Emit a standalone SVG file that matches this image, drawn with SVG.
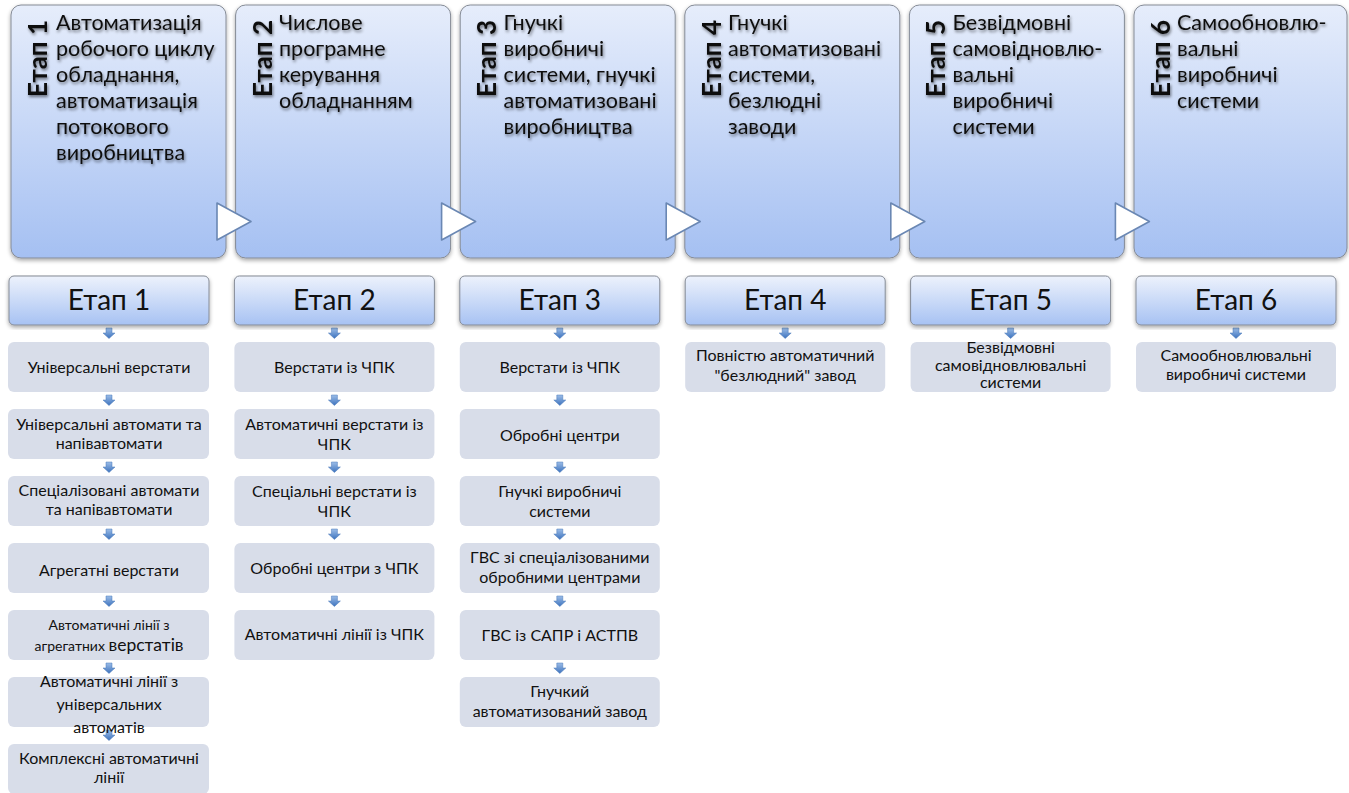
<svg xmlns="http://www.w3.org/2000/svg" width="1349" height="793" viewBox="0 0 1349 793">
  <defs>
    <linearGradient id="gStage" x1="0" y1="0" x2="0" y2="1">
      <stop offset="0" stop-color="#e6edfb"/>
      <stop offset="1" stop-color="#a5c0f2"/>
    </linearGradient>
    <linearGradient id="gHead" x1="0" y1="0" x2="0" y2="1">
      <stop offset="0" stop-color="#edf2fc"/>
      <stop offset="1" stop-color="#a7c2f3"/>
    </linearGradient>
    <linearGradient id="gArrow" x1="0" y1="0" x2="0" y2="1">
      <stop offset="0" stop-color="#9cbde8"/>
      <stop offset="1" stop-color="#3c72bd"/>
    </linearGradient>
    <filter id="boxShadow" x="-5%" y="-5%" width="110%" height="115%">
      <feGaussianBlur in="SourceAlpha" stdDeviation="2"/>
      <feOffset dx="0" dy="2" result="b"/>
      <feComponentTransfer><feFuncA type="linear" slope="0.35"/></feComponentTransfer>
      <feMerge><feMergeNode/><feMergeNode in="SourceGraphic"/></feMerge>
    </filter>
    <filter id="textShadow" x="-10%" y="-20%" width="120%" height="150%">
      <feGaussianBlur in="SourceAlpha" stdDeviation="1.8"/>
      <feOffset dx="1" dy="2" result="b"/>
      <feComponentTransfer><feFuncA type="linear" slope="0.5"/></feComponentTransfer>
      <feMerge><feMergeNode/><feMergeNode in="SourceGraphic"/></feMerge>
    </filter>
    <path id="dnArrow" d="M-3,0 h6 v5 h3 l-6,5.5 l-6,-5.5 h3 z" fill="url(#gArrow)" stroke="#4a78b8" stroke-width="0.5"/>
  </defs>
  <style>
    text { font-family: Lato, "Noto Sans", "DejaVu Sans", sans-serif; fill: #111; }
    .stage { fill: url(#gStage); stroke: #858b96; stroke-width: 1; }
    .head { fill: url(#gHead); stroke: #858b96; stroke-width: 1; }
    .child { fill: #d8dde9; }
    .tri { fill: #ffffff; stroke: #6a87b3; stroke-width: 1.6; stroke-linejoin: round; }
    .vlab { font-size: 26px; font-weight: 700; }
    .ttl { font-size: 21.5px; }
    .hl { font-size: 28px; text-anchor: middle; }
    .ct { text-anchor: middle; font-size: 16px; }
  </style>

  <rect width="1349" height="793" fill="#ffffff"/>

  <!-- Stage overview panels -->
  <g id="stage1">
    <rect class="stage" x="11" y="5" width="215" height="253" rx="10" filter="url(#boxShadow)"/>
    <g filter="url(#textShadow)">
      <text class="vlab" transform="translate(47,97) rotate(-90)">Етап 1</text>
      <text class="ttl"><tspan x="56" y="30">Автоматизація</tspan><tspan x="56" y="56">робочого циклу</tspan><tspan x="56" y="82">обладнання,</tspan><tspan x="56" y="108">автоматизація</tspan><tspan x="56" y="134">потокового</tspan><tspan x="56" y="160">виробництва</tspan></text>
    </g>
  </g>
  <g id="stage2">
    <rect class="stage" x="235.6" y="5" width="215" height="253" rx="10" filter="url(#boxShadow)"/>
    <g filter="url(#textShadow)">
      <text class="vlab" transform="translate(271.6,97) rotate(-90)">Етап 2</text>
      <text class="ttl"><tspan x="279" y="30">Числове</tspan><tspan x="279" y="56">програмне</tspan><tspan x="279" y="82">керування</tspan><tspan x="279" y="108">обладнанням</tspan></text>
    </g>
  </g>
  <g id="stage3">
    <rect class="stage" x="460.2" y="5" width="215" height="253" rx="10" filter="url(#boxShadow)"/>
    <g filter="url(#textShadow)">
      <text class="vlab" transform="translate(496.2,97) rotate(-90)">Етап 3</text>
      <text class="ttl"><tspan x="503.5" y="30">Гнучкі</tspan><tspan x="503.5" y="56">виробничі</tspan><tspan x="503.5" y="82">системи, гнучкі</tspan><tspan x="503.5" y="108">автоматизовані</tspan><tspan x="503.5" y="134">виробництва</tspan></text>
    </g>
  </g>
  <g id="stage4">
    <rect class="stage" x="684.8" y="5" width="215" height="253" rx="10" filter="url(#boxShadow)"/>
    <g filter="url(#textShadow)">
      <text class="vlab" transform="translate(720.8,97) rotate(-90)">Етап 4</text>
      <text class="ttl"><tspan x="728" y="30">Гнучкі</tspan><tspan x="728" y="56">автоматизовані</tspan><tspan x="728" y="82">системи,</tspan><tspan x="728" y="108">безлюдні</tspan><tspan x="728" y="134">заводи</tspan></text>
    </g>
  </g>
  <g id="stage5">
    <rect class="stage" x="909.4" y="5" width="215" height="253" rx="10" filter="url(#boxShadow)"/>
    <g filter="url(#textShadow)">
      <text class="vlab" transform="translate(945.4,97) rotate(-90)">Етап 5</text>
      <text class="ttl"><tspan x="952.5" y="30">Безвідмовні</tspan><tspan x="952.5" y="56">самовідновлю-</tspan><tspan x="952.5" y="82">вальні</tspan><tspan x="952.5" y="108">виробничі</tspan><tspan x="952.5" y="134">системи</tspan></text>
    </g>
  </g>
  <g id="stage6">
    <rect class="stage" x="1134" y="5" width="213" height="253" rx="10" filter="url(#boxShadow)"/>
    <g filter="url(#textShadow)">
      <text class="vlab" transform="translate(1170,97) rotate(-90)">Етап 6</text>
      <text class="ttl"><tspan x="1177" y="30">Самообновлю-</tspan><tspan x="1177" y="56">вальні</tspan><tspan x="1177" y="82">виробничі</tspan><tspan x="1177" y="108">системи</tspan></text>
    </g>
  </g>

  <!-- Connectors: stage-to-stage triangles and small down arrows -->
  <g id="connectors">
    <polygon class="tri" points="217,203 251,221.5 217,240"/>
    <polygon class="tri" points="441.6,203 475.6,221.5 441.6,240"/>
    <polygon class="tri" points="666.2,203 700.2,221.5 666.2,240"/>
    <polygon class="tri" points="890.8,203 924.8,221.5 890.8,240"/>
    <polygon class="tri" points="1115.4,203 1149.4,221.5 1115.4,240"/>

    <!-- column 1 -->
    <use href="#dnArrow" x="109" y="328"/>
    <use href="#dnArrow" x="109" y="395"/>
    <use href="#dnArrow" x="109" y="462"/>
    <use href="#dnArrow" x="109" y="529"/>
    <use href="#dnArrow" x="109" y="596"/>
    <use href="#dnArrow" x="109" y="663"/>
    <use href="#dnArrow" x="109" y="730"/>
    <!-- column 2 -->
    <use href="#dnArrow" x="334.4" y="328"/>
    <use href="#dnArrow" x="334.4" y="395"/>
    <use href="#dnArrow" x="334.4" y="462"/>
    <use href="#dnArrow" x="334.4" y="529"/>
    <use href="#dnArrow" x="334.4" y="596"/>
    <!-- column 3 -->
    <use href="#dnArrow" x="559.8" y="328"/>
    <use href="#dnArrow" x="559.8" y="395"/>
    <use href="#dnArrow" x="559.8" y="462"/>
    <use href="#dnArrow" x="559.8" y="529"/>
    <use href="#dnArrow" x="559.8" y="596"/>
    <use href="#dnArrow" x="559.8" y="663"/>
    <!-- columns 4-6 -->
    <use href="#dnArrow" x="785.2" y="328"/>
    <use href="#dnArrow" x="1010.6" y="328"/>
    <use href="#dnArrow" x="1236" y="328"/>
  </g>

  <!-- Column headers -->
  <g id="head1"><rect class="head" x="9" y="276" width="200" height="49" rx="5" filter="url(#boxShadow)"/><text class="hl" x="109" y="310">Етап 1</text></g>
  <g id="head2"><rect class="head" x="234.4" y="276" width="200" height="49" rx="5" filter="url(#boxShadow)"/><text class="hl" x="334.4" y="310">Етап 2</text></g>
  <g id="head3"><rect class="head" x="459.8" y="276" width="200" height="49" rx="5" filter="url(#boxShadow)"/><text class="hl" x="559.8" y="310">Етап 3</text></g>
  <g id="head4"><rect class="head" x="685.2" y="276" width="200" height="49" rx="5" filter="url(#boxShadow)"/><text class="hl" x="785.2" y="310">Етап 4</text></g>
  <g id="head5"><rect class="head" x="910.6" y="276" width="200" height="49" rx="5" filter="url(#boxShadow)"/><text class="hl" x="1010.6" y="310">Етап 5</text></g>
  <g id="head6"><rect class="head" x="1136" y="276" width="200" height="49" rx="5" filter="url(#boxShadow)"/><text class="hl" x="1236" y="310">Етап 6</text></g>

  <!-- Column 1 items -->
  <g id="c1i1"><rect class="child" x="8" y="342" width="201" height="50" rx="6"/><text class="ct" x="109" y="373" font-size="18.5">Універсальні верстати</text></g>
  <g id="c1i2"><rect class="child" x="8" y="409" width="201" height="50" rx="6"/><text class="ct" font-size="15.6"><tspan x="109" y="430">Універсальні автомати та</tspan><tspan x="109" y="449">напівавтомати</tspan></text></g>
  <g id="c1i3"><rect class="child" x="8" y="476" width="201" height="50" rx="6"/><text class="ct" font-size="15.6"><tspan x="109" y="496">Спеціалізовані автомати</tspan><tspan x="109" y="515">та напівавтомати</tspan></text></g>
  <g id="c1i4"><rect class="child" x="8" y="543" width="201" height="50" rx="6"/><text class="ct" x="109" y="576" font-size="18.8">Агрегатні верстати</text></g>
  <g id="c1i5"><rect class="child" x="8" y="610" width="201" height="50" rx="6"/><text class="ct"><tspan x="109" y="630" font-size="14">Автоматичні лінії з</tspan><tspan x="109" y="651" font-size="14">агрегатних <tspan font-size="17.5">верстатів</tspan></tspan></text></g>
  <g id="c1i6"><rect class="child" x="8" y="677" width="201" height="50" rx="6"/><text class="ct" font-size="17.8"><tspan x="109" y="687">Автоматичні лінії з</tspan><tspan x="109" y="710">універсальних</tspan><tspan x="109" y="733">автоматів</tspan></text></g>
  <g id="c1i7"><rect class="child" x="8" y="744" width="201" height="50" rx="6"/><text class="ct" font-size="15.6"><tspan x="109" y="764">Комплексні автоматичні</tspan><tspan x="109" y="783">лінії</tspan></text></g>

  <!-- Column 2 items -->
  <g id="c2i1"><rect class="child" x="234.4" y="342" width="200" height="50" rx="6"/><text class="ct" x="334.4" y="373" font-size="16.5">Верстати із ЧПК</text></g>
  <g id="c2i2"><rect class="child" x="234.4" y="409" width="200" height="50" rx="6"/><text class="ct" font-size="16.4"><tspan x="334.4" y="430">Автоматичні верстати із</tspan><tspan x="334.4" y="450">ЧПК</tspan></text></g>
  <g id="c2i3"><rect class="child" x="234.4" y="476" width="200" height="50" rx="6"/><text class="ct" font-size="16.5"><tspan x="334.4" y="497">Спеціальні верстати із</tspan><tspan x="334.4" y="517">ЧПК</tspan></text></g>
  <g id="c2i4"><rect class="child" x="234.4" y="543" width="200" height="50" rx="6"/><text class="ct" x="334.4" y="574" font-size="16.5">Обробні центри з ЧПК</text></g>
  <g id="c2i5"><rect class="child" x="234.4" y="610" width="200" height="50" rx="6"/><text class="ct" x="334.4" y="640" font-size="17">Автоматичні лінії із ЧПК</text></g>

  <!-- Column 3 items -->
  <g id="c3i1"><rect class="child" x="459.8" y="342" width="200" height="50" rx="6"/><text class="ct" x="559.8" y="373" font-size="16.5">Верстати із ЧПК</text></g>
  <g id="c3i2"><rect class="child" x="459.8" y="409" width="200" height="50" rx="6"/><text class="ct" x="559.8" y="441" font-size="16.5">Обробні центри</text></g>
  <g id="c3i3"><rect class="child" x="459.8" y="476" width="200" height="50" rx="6"/><text class="ct" font-size="16.5"><tspan x="559.8" y="497">Гнучкі виробничі</tspan><tspan x="559.8" y="517">системи</tspan></text></g>
  <g id="c3i4"><rect class="child" x="459.8" y="543" width="200" height="50" rx="6"/><text class="ct" font-size="16.5"><tspan x="559.8" y="563">ГВС зі спеціалізованими</tspan><tspan x="559.8" y="583">обробними центрами</tspan></text></g>
  <g id="c3i5"><rect class="child" x="459.8" y="610" width="200" height="50" rx="6"/><text class="ct" x="559.8" y="641" font-size="16.3">ГВС із САПР і АСТПВ</text></g>
  <g id="c3i6"><rect class="child" x="459.8" y="677" width="200" height="50" rx="6"/><text class="ct" font-size="16.5"><tspan x="559.8" y="697">Гнучкий</tspan><tspan x="559.8" y="717">автоматизований завод</tspan></text></g>

  <!-- Columns 4-6 items -->
  <g id="c4i1"><rect class="child" x="685.2" y="342" width="200" height="50" rx="6"/><text class="ct" font-size="16.5"><tspan x="785.2" y="361">Повністю автоматичний</tspan><tspan x="785.2" y="381">"безлюдний" завод</tspan></text></g>
  <g id="c5i1"><rect class="child" x="910.6" y="342" width="200" height="50" rx="6"/><text class="ct" font-size="14.5"><tspan x="1010.6" y="353">Безвідмовні</tspan><tspan x="1010.6" y="370.5">самовідновлювальні</tspan><tspan x="1010.6" y="388">системи</tspan></text></g>
  <g id="c6i1"><rect class="child" x="1136" y="342" width="200" height="50" rx="6"/><text class="ct" font-size="15.8"><tspan x="1236" y="361">Самообновлювальні</tspan><tspan x="1236" y="380">виробничі системи</tspan></text></g>
</svg>
